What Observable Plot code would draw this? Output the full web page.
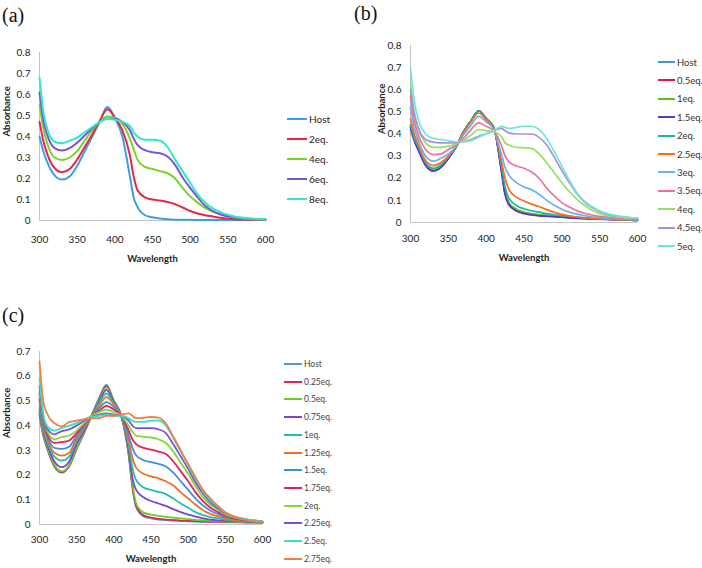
<!DOCTYPE html>
<html><head><meta charset="utf-8">
<script src="https://cdn.jsdelivr.net/npm/d3@7"></script>
<script src="https://cdn.jsdelivr.net/npm/@observablehq/plot@0.6"></script>
<style>
body{margin:0;background:#fff;}
#wrap{position:relative;width:702px;height:568px;overflow:hidden;background:#fff;font-family:Lato,"Open Sans",sans-serif;}
.panel{position:absolute;}
.plab{position:absolute;font-family:"Liberation Serif","DejaVu Serif",serif;font-size:20px;color:#111;line-height:20px;}
.leg{position:absolute;left:0;top:0;}
.row{position:absolute;white-space:nowrap;display:flex;align-items:center;height:12px;color:#222;}
.sw{display:inline-block;height:2px;margin-right:2px;}
</style></head><body><div id="wrap"></div>
<script>
// Wavelength grid (nm)
const W = [300,305,310,320,330,340,350,360,370,380,390,400,410,420,425,430,440,450,460,470,480,490,500,510,520,530,540,550,560,580,600];
const xTicks = [300,350,400,450,500,550,600];
const yTicksA = [0,0.1,0.2,0.3,0.4,0.5,0.6,0.7,0.8];
const yTicksC = [0,0.1,0.2,0.3,0.4,0.5,0.6,0.7];

// Panel (a)
const labelsA = ["Host","2eq.","4eq.","6eq.","8eq."];
const a_Host = [0.40,0.33,0.28,0.215,0.195,0.21,0.26,0.33,0.40,0.47,0.54,0.49,0.40,0.21,0.11,0.065,0.025,0.015,0.01,0.006,0.004,0.003,0.003,0.002,0.002,0.002,0.002,0.002,0.002,0.002,0.002];
const a_2 = [0.47,0.38,0.32,0.25,0.23,0.245,0.29,0.35,0.41,0.475,0.53,0.49,0.43,0.31,0.21,0.145,0.11,0.10,0.095,0.088,0.078,0.062,0.045,0.033,0.025,0.019,0.013,0.009,0.006,0.004,0.003];
const a_4 = [0.55,0.44,0.37,0.30,0.288,0.30,0.33,0.38,0.43,0.47,0.495,0.49,0.46,0.39,0.34,0.29,0.255,0.245,0.235,0.225,0.20,0.155,0.115,0.085,0.06,0.042,0.03,0.02,0.013,0.007,0.004];
const a_6 = [0.61,0.48,0.41,0.345,0.333,0.345,0.37,0.405,0.44,0.47,0.485,0.485,0.47,0.43,0.39,0.36,0.335,0.325,0.32,0.305,0.265,0.205,0.155,0.11,0.07,0.045,0.03,0.02,0.014,0.008,0.005];
const a_8 = [0.68,0.52,0.44,0.375,0.368,0.38,0.395,0.42,0.445,0.47,0.485,0.48,0.47,0.45,0.42,0.40,0.385,0.385,0.38,0.35,0.29,0.235,0.18,0.125,0.085,0.058,0.04,0.027,0.018,0.01,0.006];
const colorsA = ["#3d9ee0","#e8254b","#78d424","#7b55d8","#30e8c8"];

// Panel (b)
const labelsB = ["Host","0.5eq.","1eq.","1.5eq.","2eq.","2.5eq.","3eq.","3.5eq.","4eq.","4.5eq.","5eq."];
const b_Host = [0.42,0.37,0.33,0.26,0.235,0.25,0.29,0.34,0.41,0.46,0.505,0.47,0.43,0.24,0.13,0.085,0.055,0.043,0.037,0.033,0.03,0.027,0.025,0.022,0.02,0.018,0.016,0.015,0.014,0.012,0.01];
const b_05 = [0.43,0.375,0.335,0.262,0.238,0.252,0.29,0.34,0.41,0.46,0.505,0.47,0.43,0.245,0.135,0.088,0.057,0.045,0.038,0.034,0.031,0.028,0.026,0.023,0.021,0.019,0.017,0.016,0.015,0.012,0.01];
const b_1 = [0.44,0.38,0.34,0.265,0.24,0.255,0.292,0.34,0.41,0.46,0.505,0.47,0.43,0.25,0.14,0.09,0.06,0.047,0.04,0.035,0.032,0.029,0.027,0.024,0.022,0.02,0.018,0.016,0.015,0.012,0.01];
const b_15 = [0.43,0.37,0.33,0.258,0.232,0.248,0.288,0.34,0.41,0.46,0.505,0.47,0.43,0.235,0.125,0.08,0.052,0.04,0.034,0.03,0.028,0.026,0.024,0.021,0.019,0.017,0.016,0.015,0.014,0.012,0.01];
const b_2 = [0.44,0.38,0.345,0.27,0.245,0.26,0.295,0.34,0.41,0.46,0.505,0.47,0.43,0.26,0.16,0.11,0.077,0.062,0.053,0.047,0.04,0.035,0.031,0.027,0.024,0.021,0.019,0.017,0.016,0.013,0.011];
const b_25 = [0.47,0.40,0.355,0.28,0.257,0.27,0.30,0.343,0.405,0.455,0.495,0.465,0.425,0.28,0.20,0.15,0.115,0.097,0.083,0.072,0.058,0.046,0.037,0.03,0.025,0.021,0.018,0.016,0.015,0.013,0.012];
const b_3 = [0.52,0.43,0.375,0.30,0.277,0.29,0.31,0.345,0.395,0.44,0.48,0.455,0.42,0.31,0.25,0.215,0.18,0.16,0.148,0.128,0.10,0.078,0.06,0.047,0.038,0.031,0.026,0.022,0.019,0.015,0.012];
const b_35 = [0.57,0.46,0.40,0.33,0.307,0.31,0.33,0.35,0.38,0.42,0.45,0.435,0.415,0.35,0.30,0.275,0.255,0.245,0.228,0.20,0.155,0.12,0.09,0.07,0.053,0.042,0.034,0.028,0.024,0.018,0.014];
const b_4 = [0.63,0.50,0.43,0.36,0.34,0.34,0.345,0.355,0.37,0.395,0.42,0.415,0.41,0.39,0.36,0.35,0.34,0.338,0.335,0.31,0.27,0.225,0.18,0.14,0.105,0.078,0.055,0.04,0.032,0.023,0.018];
const b_45 = [0.60,0.49,0.43,0.375,0.363,0.36,0.36,0.36,0.365,0.375,0.39,0.40,0.415,0.425,0.415,0.405,0.40,0.40,0.40,0.385,0.35,0.295,0.235,0.18,0.13,0.092,0.068,0.05,0.038,0.026,0.02];
const b_5 = [0.70,0.55,0.47,0.40,0.38,0.375,0.37,0.365,0.365,0.37,0.385,0.40,0.415,0.435,0.43,0.425,0.43,0.435,0.435,0.42,0.38,0.32,0.255,0.19,0.135,0.097,0.072,0.053,0.04,0.027,0.02];
const colorsB = ["#4a90e2","#d81b4a","#5cc21a","#5b34c0","#19b8a0","#ff6a1a","#6ab0ee","#f07098","#94e060","#a890e0","#70e8d8"];

// Panel (c)
const labelsC = ["Host","0.25eq.","0.5eq.","0.75eq.","1eq.","1.25eq.","1.5eq.","1.75eq.","2eq.","2.25eq.","2.5eq.","2.75eq."];
const c_Host = [0.44,0.36,0.31,0.235,0.21,0.235,0.305,0.37,0.44,0.51,0.565,0.50,0.44,0.28,0.15,0.07,0.033,0.025,0.02,0.018,0.016,0.014,0.013,0.012,0.011,0.01,0.01,0.009,0.009,0.008,0.008];
const c_025 = [0.45,0.365,0.315,0.238,0.212,0.238,0.308,0.37,0.44,0.505,0.56,0.50,0.44,0.285,0.155,0.075,0.037,0.028,0.023,0.02,0.018,0.016,0.015,0.014,0.013,0.012,0.011,0.01,0.01,0.009,0.008];
const c_05 = [0.46,0.37,0.32,0.242,0.215,0.24,0.31,0.372,0.44,0.50,0.555,0.50,0.44,0.29,0.165,0.085,0.048,0.04,0.035,0.031,0.028,0.025,0.022,0.019,0.017,0.015,0.013,0.012,0.011,0.009,0.008];
const c_075 = [0.47,0.38,0.33,0.255,0.232,0.255,0.325,0.38,0.44,0.495,0.545,0.495,0.44,0.30,0.19,0.14,0.11,0.095,0.085,0.075,0.062,0.05,0.04,0.032,0.025,0.02,0.017,0.015,0.013,0.011,0.009];
const c_1 = [0.48,0.39,0.34,0.275,0.259,0.275,0.34,0.39,0.44,0.49,0.53,0.49,0.44,0.32,0.23,0.18,0.15,0.14,0.132,0.123,0.105,0.085,0.068,0.05,0.038,0.03,0.025,0.02,0.017,0.013,0.01];
const c_125 = [0.50,0.40,0.35,0.29,0.279,0.29,0.35,0.395,0.44,0.48,0.515,0.485,0.44,0.34,0.27,0.23,0.205,0.195,0.187,0.175,0.158,0.13,0.105,0.08,0.058,0.043,0.033,0.026,0.02,0.014,0.01];
const c_15 = [0.51,0.41,0.36,0.31,0.306,0.315,0.36,0.40,0.44,0.47,0.495,0.475,0.44,0.36,0.31,0.28,0.26,0.252,0.245,0.235,0.21,0.175,0.14,0.105,0.077,0.056,0.042,0.03,0.024,0.016,0.011];
const c_175 = [0.53,0.42,0.37,0.33,0.333,0.34,0.37,0.405,0.44,0.46,0.48,0.465,0.44,0.38,0.345,0.325,0.31,0.303,0.295,0.285,0.255,0.215,0.175,0.13,0.095,0.068,0.05,0.035,0.026,0.017,0.012];
const c_2 = [0.54,0.43,0.38,0.345,0.354,0.36,0.38,0.41,0.44,0.455,0.465,0.455,0.44,0.40,0.375,0.36,0.355,0.352,0.345,0.33,0.295,0.25,0.205,0.155,0.11,0.08,0.06,0.04,0.03,0.019,0.012];
const c_225 = [0.56,0.44,0.39,0.365,0.378,0.385,0.40,0.42,0.435,0.445,0.45,0.445,0.44,0.42,0.40,0.39,0.39,0.39,0.385,0.37,0.325,0.275,0.225,0.17,0.125,0.09,0.066,0.045,0.032,0.02,0.012];
const c_25 = [0.59,0.45,0.40,0.38,0.391,0.40,0.41,0.425,0.435,0.44,0.445,0.44,0.44,0.43,0.42,0.415,0.415,0.42,0.42,0.40,0.35,0.295,0.24,0.185,0.135,0.098,0.072,0.048,0.033,0.02,0.012];
const c_275 = [0.66,0.50,0.45,0.41,0.397,0.415,0.42,0.425,0.43,0.43,0.44,0.44,0.445,0.45,0.44,0.43,0.432,0.435,0.432,0.408,0.355,0.30,0.245,0.19,0.14,0.105,0.075,0.05,0.035,0.018,0.01];
const colorsC = ["#4a9ad6","#e0245a","#6ccc20","#7b45d0","#20c0b0","#f07020","#3d8fe0","#e8205a","#80d830","#8050d8","#30e0d0","#f08040"];

const wrap = document.getElementById("wrap");

function tidy(seriesList, labels) {
  const out = [];
  seriesList.forEach((vals, k) => W.forEach((w, i) => out.push({w, v: vals[i], s: labels[k]})));
  return out;
}

function makePlot(o) {
  const data = tidy(o.series, o.labels);
  const svg = Plot.plot({
    width: o.width, height: o.height,
    marginTop: o.mt, marginRight: o.mr, marginBottom: o.mb, marginLeft: o.ml,
    style: {fontFamily: "Lato, 'Open Sans', sans-serif", fontSize: "10px", color: "#222", background: "transparent", overflow: "visible"},
    x: {domain: [300, 600], ticks: xTicks, tickSize: 0, tickPadding: o.xPad, tickFormat: d => String(d), label: null},
    y: {domain: [0, o.yMax], ticks: o.yTicks, tickSize: 0, tickPadding: 9, tickFormat: d => d === 0 ? "0" : d.toFixed(1), label: null},
    color: {domain: o.labels, range: o.colors},
    marks: [
      Plot.ruleY([0], {stroke: "#c4c4c4", strokeWidth: 1}),
      Plot.ruleX([300], {stroke: "#c4c4c4", strokeWidth: 1}),
      Plot.line(data, {x: "w", y: "v", z: "s", stroke: "s", strokeWidth: o.sw, curve: "monotone-x"}),
      Plot.text(["Wavelength"], {text: d => d, frameAnchor: "bottom", dy: o.titleDy, lineAnchor: "middle", fontWeight: "bold", fontSize: 9.5}),
      Plot.text(["Absorbance"], {text: d => d, frameAnchor: "left", dx: -o.absDx, rotate: -90, lineAnchor: "middle", fontWeight: "bold", fontSize: 9.5})
    ]
  });
  svg.classList.add("panel");
  svg.style.left = o.left + "px";
  svg.style.top = o.top + "px";
  svg.style.position = "absolute";
  wrap.appendChild(svg);
}

function makeLegend(x0, y0, step, lineW, fs, labels, colors, textColor) {
  labels.forEach((l, i) => {
    const row = document.createElement("div");
    row.className = "row";
    row.style.left = x0 + "px";
    row.style.top = (y0 + i * step - 6) + "px";
    row.style.fontSize = fs + "px";
    row.style.color = textColor;
    const sw = document.createElement("span");
    sw.className = "sw";
    sw.style.width = lineW + "px";
    sw.style.background = colors[i];
    row.appendChild(sw);
    const t = document.createElement("span");
    t.textContent = l;
    row.appendChild(t);
    wrap.appendChild(row);
  });
}

function panelLabel(text, x, y) {
  const d = document.createElement("div");
  d.className = "plab";
  d.style.left = x + "px";
  d.style.top = y + "px";
  d.textContent = text;
  wrap.appendChild(d);
}

// (a)
makePlot({series: [a_Host, a_2, a_4, a_6, a_8], labels: labelsA, colors: colorsA,
  yMax: 0.8, yTicks: yTicksA, left: 0, top: 0, width: 280, height: 270,
  mt: 52, mr: 15, mb: 50, ml: 39, xPad: 15, titleDy: 38, absDx: 33, sw: 2});
makeLegend(287, 119, 20, 20, 10, labelsA, colorsA, "#222");
panelLabel("(a)", 2, 5);

// (b)
makePlot({series: [b_Host, b_05, b_1, b_15, b_2, b_25, b_3, b_35, b_4, b_45, b_5], labels: labelsB, colors: colorsB,
  yMax: 0.8, yTicks: yTicksA, left: 360, top: 0, width: 287, height: 270,
  mt: 45, mr: 10, mb: 48, ml: 50, xPad: 12, titleDy: 35, absDx: 29, sw: 1.7});
makeLegend(658, 62, 18.4, 17, 9.5, labelsB, colorsB, "#333");
panelLabel("(b)", 354, 3);

// (c)
makePlot({series: [c_Host, c_025, c_05, c_075, c_1, c_125, c_15, c_175, c_2, c_225, c_25, c_275], labels: labelsC, colors: colorsC,
  yMax: 0.7, yTicks: yTicksC, left: 0, top: 300, width: 275, height: 268,
  mt: 51, mr: 13, mb: 44, ml: 39, xPad: 11, titleDy: 34, absDx: 33, sw: 1.8});
makeLegend(284, 364, 17.7, 18, 8.5, labelsC, colorsC, "#444");
panelLabel("(c)", 2, 305);
</script></body></html>
